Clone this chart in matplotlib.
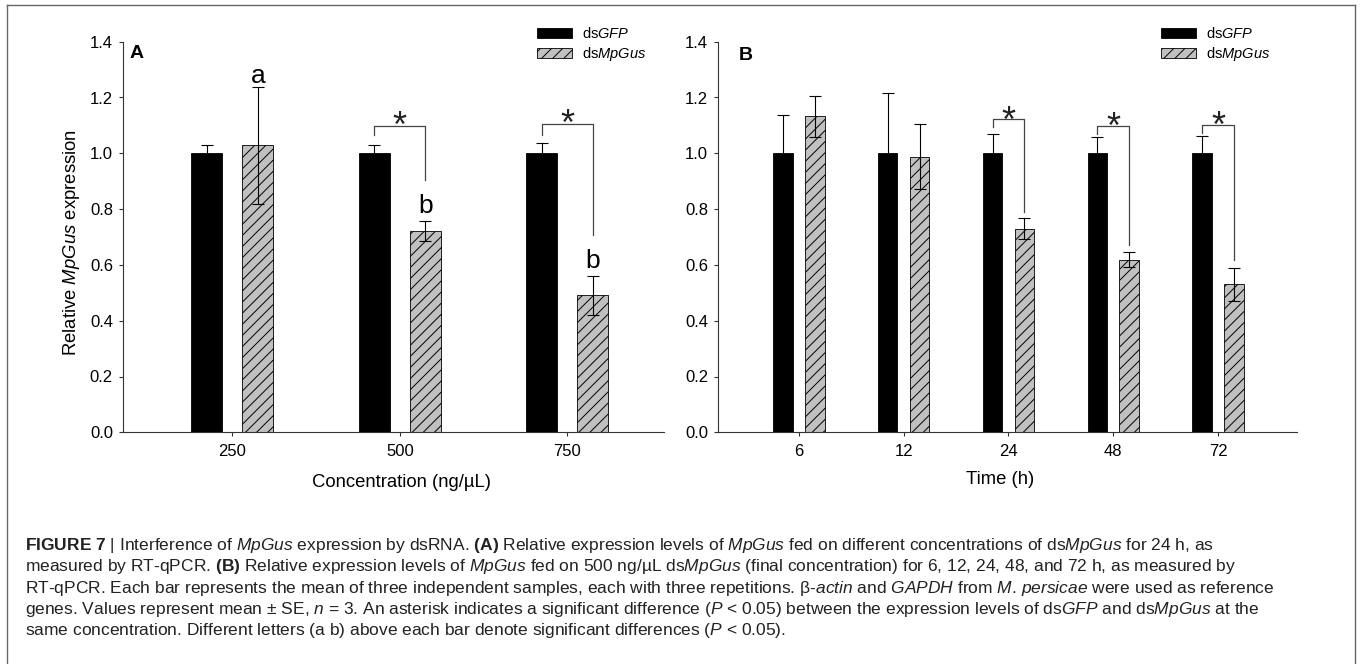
import numpy as np
import matplotlib
matplotlib.use("Agg")
import matplotlib.pyplot as plt
from matplotlib.lines import Line2D

plt.rcParams['font.family'] = ['Liberation Sans', 'DejaVu Sans']
plt.rcParams['mathtext.fontset'] = 'custom'
plt.rcParams['mathtext.rm'] = 'Liberation Sans'
plt.rcParams['mathtext.it'] = 'Liberation Sans:italic'
plt.rcParams['mathtext.bf'] = 'Liberation Sans:bold'
plt.rcParams['hatch.linewidth'] = 0.7

# panel A: concentration
conc_labels = ['250', '500', '750']
gfp_a = [1.0, 1.0, 1.0]
gfp_a_err = [0.031, 0.031, 0.038]
gus_a = [1.028, 0.722, 0.492]
gus_a_err = [0.208, 0.035, 0.070]
letters_a = ['a', 'b', 'b']
letter_y_a = [1.251, 0.785, 0.588]
# significance brackets: group index, (top, left end, right end), asterisk y
sig_idx_a = [1, 2]
sig_a = [(1.099, 1.066, 0.904), (1.104, 1.066, 0.707)]
star_y_a = [1.137, 1.144]

# panel B: time
time_labels = ['6', '12', '24', '48', '72']
gfp_b = [1.0, 1.0, 1.0, 1.0, 1.0]
gfp_b_err = [0.136, 0.217, 0.070, 0.057, 0.062]
gus_b = [1.132, 0.988, 0.730, 0.618, 0.530]
gus_b_err = [0.072, 0.116, 0.037, 0.027, 0.059]
sig_idx_b = [2, 3, 4]
sig_b = [(1.123, 1.095, 0.790), (1.099, 1.068, 0.671), (1.103, 1.071, 0.618)]
star_y_b = [1.155, 1.131, 1.134]

caption = [
    r"$\mathbf{FIGURE\ 7}$ | Interference of $\mathit{MpGus}$ expression by dsRNA. $\mathbf{(A)}$ Relative expression levels of $\mathit{MpGus}$ fed on different concentrations of ds$\mathit{MpGus}$ for 24 h, as",
    r"measured by RT-qPCR. $\mathbf{(B)}$ Relative expression levels of $\mathit{MpGus}$ fed on 500 ng/µL ds$\mathit{MpGus}$ (final concentration) for 6, 12, 24, 48, and 72 h, as measured by",
    r"RT-qPCR. Each bar represents the mean of three independent samples, each with three repetitions. β-$\mathit{actin}$ and $\mathit{GAPDH}$ from $\mathit{M}$. $\mathit{persicae}$ were used as reference",
    r"genes. Values represent mean ± SE, $\mathit{n}$ = 3. An asterisk indicates a significant difference ($\mathit{P}$ < 0.05) between the expression levels of ds$\mathit{GFP}$ and ds$\mathit{MpGus}$ at the",
    r"same concentration. Different letters (a b) above each bar denote significant differences ($\mathit{P}$ < 0.05).",
]

W, H = 1360, 664
fig = plt.figure(figsize=(W / 100, H / 100), dpi=100)


def px_axes(l, t, r, b):
    return fig.add_axes([l / W, 1 - b / H, (r - l) / W, (b - t) / H])


BW = 0.185
OFF = 0.152
EC = '#333333'


def draw_panel(ax, labels, gfp, gfp_err, gus, gus_err, xlim):
    x = np.arange(1, len(labels) + 1)
    ax.bar(x - OFF, gfp, BW, color='black', edgecolor='black', linewidth=0.6,
           label='ds$\\mathit{GFP}$', zorder=2)
    ax.bar(x + OFF, gus, BW, color='#c0c0c0', edgecolor='black', linewidth=0.6,
           hatch='///', label='ds$\\mathit{MpGus}$', zorder=2)
    ax.errorbar(x - OFF, gfp, yerr=gfp_err, fmt='none', ecolor='black',
                elinewidth=0.8, capsize=4.2, capthick=0.8, zorder=3)
    ax.errorbar(x + OFF, gus, yerr=gus_err, fmt='none', ecolor='black',
                elinewidth=0.8, capsize=4.2, capthick=0.8, zorder=3)
    ax.set_xlim(*xlim)
    ax.set_ylim(0, 1.4)
    ax.set_xticks(x)
    ax.set_xticklabels(labels)
    ax.set_yticks(np.arange(0, 1.41, 0.2))
    ax.set_yticklabels([f"{v:.1f}" for v in np.arange(0, 1.41, 0.2)])
    ax.tick_params(axis='both', direction='out', length=3.2, width=0.8,
                   color=EC, labelsize=12)
    ax.tick_params(axis='y', pad=4)
    ax.tick_params(axis='x', pad=5)
    for s in ['top', 'right']:
        ax.spines[s].set_visible(False)
    for s in ['left', 'bottom']:
        ax.spines[s].set_color(EC)
        ax.spines[s].set_linewidth(0.8)
    return x


def draw_sig(ax, idx, brackets, stars):
    for i, (top, yl, yr), sy in zip(idx, brackets, stars):
        xc = i + 1
        ax.plot([xc - OFF, xc - OFF, xc + OFF, xc + OFF], [yl, top, top, yr],
                color='#444444', lw=0.9, zorder=4)
        ax.annotate('*', (xc, sy), xytext=(0, -15.5), textcoords='offset points',
                    ha='center', va='baseline', fontsize=26, color='#222222')


def add_legend(ax, left_px):
    ax.legend(loc='upper left', bbox_to_anchor=(left_px / W, 1 - 26 / H),
              bbox_transform=fig.transFigure, frameon=False, borderpad=0,
              borderaxespad=0, handlelength=2.4, handleheight=0.7,
              handletextpad=0.7, labelspacing=0.3, fontsize=10.5)


# panel A
ax_a = px_axes(123, 41.7, 664, 432.3)
xa = draw_panel(ax_a, conc_labels, gfp_a, gfp_a_err, gus_a, gus_a_err, (0.3465, 3.578))
draw_sig(ax_a, sig_idx_a, sig_a, star_y_a)
for xi, lt, ly in zip(xa, letters_a, letter_y_a):
    ax_a.text(xi + OFF, ly, lt, ha='center', va='baseline', fontsize=19)
ax_a.set_ylabel('Relative $\\mathit{MpGus}$ expression', fontsize=13.3, va='center')
ax_a.yaxis.set_label_coords((71.5 - 123) / 541, (432.3 - 243) / 390.6)
ax_a.set_xlabel('Concentration (ng/µL)', fontsize=13.3, va='center')
ax_a.xaxis.set_label_coords((401 - 123) / 541, -(482.7 - 432.3) / 390.6)
add_legend(ax_a, 537)
fig.text(137 / W, 1 - 53 / H, 'A', ha='center', va='center', fontsize=14,
         fontweight='bold')

# panel B
ax_b = px_axes(718, 41.7, 1297, 432.3)
xb = draw_panel(ax_b, time_labels, gfp_b, gfp_b_err, gus_b, gus_b_err, (0.228, 5.754))
draw_sig(ax_b, sig_idx_b, sig_b, star_y_b)
ax_b.set_xlabel('Time (h)', fontsize=13.3, va='center')
ax_b.xaxis.set_label_coords((1000.5 - 718) / 579, -(480 - 432.3) / 390.6)
add_legend(ax_b, 1161)
fig.text(746 / W, 1 - 55 / H, 'B', ha='center', va='center', fontsize=14,
         fontweight='bold')

# caption
for k, line in enumerate(caption):
    fig.text(25 / W, 1 - (550 + 21.3 * k) / H, line, ha='left', va='baseline',
             fontsize=12.5, color='#222222')

# outer frame
for xs, ys in [([7, 7], [5, H]), ([7, 1355], [5, 5]), ([1355, 1355], [5, H])]:
    fig.add_artist(Line2D([v / W for v in xs], [1 - v / H for v in ys],
                          color='#666666', lw=1.0))

fig.savefig('out.png', dpi=100)
